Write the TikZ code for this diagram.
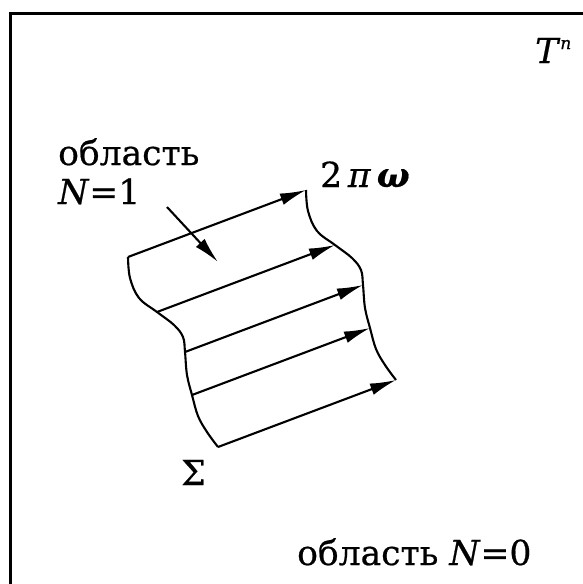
\documentclass[tikz,border=0pt]{standalone}
\usepackage{fontspec}
\setmainfont{DejaVu Serif}[FakeBold=0.6]
\usetikzlibrary{arrows.meta}
\begin{document}
\begin{tikzpicture}[x=1pt,y=-1pt,
  frame/.style={line width=2.4pt},
  edge/.style={line width=2.1pt,line join=round},
  vec/.style={line width=2.1pt,-{Latex[length=26pt,width=12pt]}},
  lbl/.style={anchor=base west,inner sep=0pt,font=\fontsize{34.5}{40}\selectfont}]
\useasboundingbox (0,0) rectangle (583,584);
\draw[frame] (10.5,584) -- (10.5,13.5) -- (583,13.5);
% left edge of the strip (Sigma) and its translate
\def\stripcurve{plot[smooth,tension=0.6] coordinates {(128,257) (130,278) (139,298) (157,312) (174,325) (183,337) (185,352) (187,375) (192,395) (198,416) (207,432) (218,447)}}
\draw[edge] \stripcurve;
\begin{scope}[shift={(178,-67)}]
\draw[edge] \stripcurve;
\end{scope}
\coordinate (L1) at (128,257);
\coordinate (L2) at (157,312);
\coordinate (L3) at (185,352);
\coordinate (L4) at (192,395);
\coordinate (L5) at (218,447);
\coordinate (R1) at (306,190);
\coordinate (R2) at (335,245);
\coordinate (R3) at (363,285);
\coordinate (R4) at (370,328);
\coordinate (R5) at (396,380);
\foreach \i in {1,...,5} \draw[vec] (L\i) -- (R\i);
% labels
\node[lbl] (reg1) at (58,165) {область};
\node[lbl] (n1) at (58,204) {\textit{N}=1};
\node[lbl] (om) at (320,187) {2\,\textit{π}\,\textbf{\textit{ω}}};
\node[lbl] (sig) at (181,485) {Σ};
\node[lbl] (tn) at (535,63) {\textit{T}\raisebox{14pt}{\fontsize{17}{17}\selectfont\textit{n}}};
\node[lbl] (reg0) at (297,565) {область \textit{N}=0};
\coordinate (p0) at (167,207);
\coordinate (p1) at (218,262);
\draw[vec] (p0) -- (p1);
\end{tikzpicture}
\end{document}
